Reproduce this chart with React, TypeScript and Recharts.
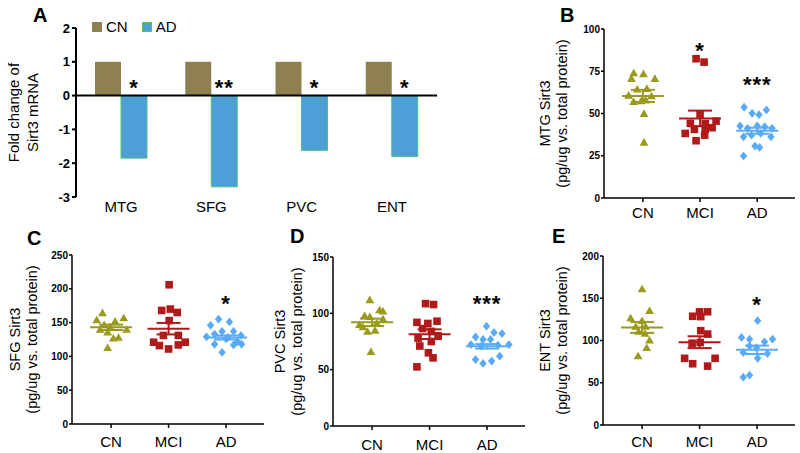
import React from 'react';
import {
  BarChart, Bar, XAxis, YAxis, ReferenceLine, LabelList, Legend,
  ScatterChart, Scatter, ErrorBar,
} from 'recharts';

const FONT = "'Liberation Sans', Arial, sans-serif";

// ---- panel A: fold change of Sirt3 mRNA
const regions = ['MTG', 'SFG', 'PVC', 'ENT'];
const cnFold = [1, 1, 1, 1];
const adFold = [-1.85, -2.7, -1.62, -1.8];
const foldSig = ['*', '**', '*', '*'];
const foldTicks = [-3, -2, -1, 0, 1, 2];
const foldSeries = ['CN', 'AD'];

// ---- panels B-E: groups, points are [x within group, value]
const groups = ['CN', 'MCI', 'AD'];

const mtgCN = [[0.84, 74], [1.01, 73.5], [1.21, 70.7], [0.8, 70.7], [0.9, 64.4], [1.07, 64.8], [0.75, 60.8], [1.15, 60.4], [0.84, 57], [1.05, 58], [0.97, 57.5], [1.02, 50], [1.02, 33]];
const mtgMCI = [[1.93, 82.4], [2.07, 80.4], [2.0, 49.5], [1.83, 44.2], [2.09, 44], [2.28, 45.5], [1.74, 38.2], [1.9, 40.6], [2.09, 40.6], [2.21, 41.6], [1.93, 33.9], [2.08, 37.2]];
const mtgAD = [[2.77, 53.7], [2.91, 50.1], [3.03, 49.3], [3.16, 52.1], [2.7, 42.6], [2.83, 41.2], [3.0, 42.6], [3.13, 42.2], [3.26, 41.2], [2.76, 36.2], [2.9, 37.2], [3.06, 38.2], [3.24, 36.2], [2.96, 30.7], [3.04, 29.9], [2.76, 24.8]];
const mtgMean = [60.4, 47.1, 39.8];
const mtgSem = [3.6, 4.6, 1.8];
const mtgSig = [{ x: 2, y: 90, t: '*' }, { x: 3, y: 70, t: '***' }];

const sfgCN = [[0.85, 164.5], [1.22, 157], [0.75, 154], [1.07, 152], [0.88, 147], [0.98, 144], [1.27, 140], [0.81, 140], [0.94, 136], [1.13, 128], [1.04, 127], [0.94, 113]];
const sfgMCI = [[2.01, 206], [2.03, 170], [1.88, 168], [2.15, 165], [2.01, 153], [1.91, 131], [2.17, 131], [1.74, 121], [2.29, 121], [1.84, 116], [2.0, 111], [2.17, 117]];
const sfgAD = [[2.87, 155], [3.06, 151], [2.73, 146], [2.93, 137], [3.13, 137], [2.8, 133], [3.26, 131], [2.66, 129], [3.0, 126], [2.8, 118], [3.13, 117], [3.27, 118], [2.93, 106], [3.03, 128], [3.2, 122]];
const sfgMean = [143, 141, 128];
const sfgSem = [4, 8.5, 3];
const sfgSig = [{ x: 3, y: 185, t: '*' }];

const pvcCN = [[0.96, 112], [1.13, 103], [1.19, 102], [0.87, 98], [0.96, 97], [1.19, 95], [0.78, 90], [1.08, 91.5], [0.84, 88], [0.92, 84], [1.05, 85], [0.98, 66]];
const pvcMCI = [[1.93, 108.6], [2.07, 107.8], [1.78, 92], [1.97, 91], [2.13, 93], [1.88, 86.5], [2.03, 84], [1.8, 78], [2.15, 80], [2.03, 75], [1.83, 71], [1.98, 65], [2.06, 60.5], [1.78, 52.5]];
const pvcAD = [[2.99, 88.6], [3.12, 83], [2.8, 79], [2.93, 76.8], [3.06, 76.8], [3.26, 82], [2.72, 72.3], [2.9, 70.9], [3.19, 71.7], [3.38, 72.3], [2.8, 59], [2.93, 55.5], [3.08, 57.6], [3.22, 62]];
const pvcMean = [92, 81.5, 70.7];
const pvcSem = [3.3, 4.3, 2];
const pvcSig = [{ x: 3, y: 113, t: '***' }];

const entCN = [[1.0, 161], [1.13, 135.5], [0.8, 126.7], [1.0, 123.5], [0.89, 116.7], [1.06, 116.7], [0.94, 110.8], [1.05, 108.4], [1.13, 100.4], [1.08, 91.6], [0.93, 81.7]];
const entMCI = [[2.0, 134], [2.14, 134], [1.88, 128.7], [2.02, 128.3], [2.02, 111.6], [2.14, 107.6], [2.01, 97.6], [1.74, 78.9], [2.27, 78.9], [1.88, 72.5], [2.14, 69.7], [1.87, 96.8]];
const entAD = [[3.01, 123.5], [2.73, 103.6], [2.87, 101.6], [3.13, 98.4], [3.27, 101.6], [2.87, 93.6], [2.99, 91.6], [2.76, 85.7], [3.18, 84.5], [3.01, 78.9], [2.87, 59], [2.76, 56.6]];
const entMean = [115.5, 98, 89];
const entSem = [6.5, 7, 5];
const entSig = [{ x: 3, y: 148, t: '*' }];

const CN_BAR = '#8e8050';
const AD_BAR = '#4e9fd8';
const AD_EDGE = '#4cc46e';
const CN_C = '#9a9a1c';
const MCI_C = '#b01a1a';
const AD_C = '#5aabf5';

const foldData = regions.map((r, i) => ({ region: r, cn: cnFold[i], ad: adFold[i], sig: foldSig[i] }));
const toPts = (arr: number[][]) => arr.map(([x, y]) => ({ x, y }));

const Tri = ({ cx, cy, c }: any) => (
  <polygon points={`${cx},${cy - 4.2} ${cx + 4.4},${cy + 3.4} ${cx - 4.4},${cy + 3.4}`} fill={c} />
);
const Sq = ({ cx, cy, c }: any) => <rect x={cx - 3.8} y={cy - 3.8} width={7.6} height={7.6} fill={c} />;
const Dia = ({ cx, cy, c }: any) => (
  <polygon points={`${cx},${cy - 4.4} ${cx + 3.7},${cy} ${cx},${cy + 4.4} ${cx - 3.7},${cy}`} fill={c} />
);

const StarText = ({ x, y, t }: any) => (
  <text x={x} y={y} dy="0.55em" textAnchor="middle" fontFamily={FONT} fontWeight="bold"
    fontSize={22} letterSpacing={1} fill="#000">{t}</text>
);

const FoldStar = (p: any) => {
  const zeroY = Math.min(p.y, p.y + p.height);
  return <StarText x={p.x + p.width / 2} y={zeroY - 13} t={p.value} />;
};

const TwoLineLabel = ({ viewBox, lines, dx1, dx2, size }: any) => {
  const cy = viewBox.y + viewBox.height / 2;
  const xs = [viewBox.x + dx1, viewBox.x + dx2];
  return (
    <g>
      {lines.map((s: string, i: number) => (
        <text key={i} x={xs[i]} y={cy} transform={`rotate(-90, ${xs[i]}, ${cy})`} textAnchor="middle"
          dominantBaseline="central" fontFamily={FONT} fontSize={size} fill="#000">{s}</text>
      ))}
    </g>
  );
};

const FoldLegend = (props: any) => {
  const items = [...(props.payload || [])].sort(
    (a: any, b: any) => foldSeries.indexOf(a.value) - foldSeries.indexOf(b.value));
  return (
    <div style={{ display: 'flex', fontFamily: FONT, fontSize: 15, color: '#000' }}>
      {items.map((e: any) => (
        <div key={e.value} style={{ display: 'flex', alignItems: 'center', marginRight: 14 }}>
          <span style={{
            display: 'inline-block', width: 10, height: 10, marginRight: 4, background: e.color,
            boxSizing: 'border-box', border: e.value === 'AD' ? `1px solid ${AD_EDGE}` : 'none',
          }} />
          {e.value}
        </div>
      ))}
    </div>
  );
};

const FoldPanel = () => (
  <BarChart width={450} height={230} data={foldData} barGap={0}
    margin={{ top: 28, right: 13, bottom: 0, left: 0 }}>
    <XAxis dataKey="region" axisLine={false} tickLine={false} tickSize={0} tickMargin={4} height={33}
      tick={{ fontSize: 15, fill: '#000', fontFamily: FONT }} />
    <YAxis domain={[-3, 2]} ticks={foldTicks} width={76} tickSize={4} tickMargin={2}
      axisLine={{ stroke: '#000', strokeWidth: 2 }} tickLine={{ stroke: '#000', strokeWidth: 2 }}
      tick={{ fontSize: 13, fontWeight: 'bold', fill: '#000', fontFamily: FONT }}
      label={{ value: 'fold', content: (p: any) => <TwoLineLabel {...p} lines={['Fold change of', 'Sirt3 mRNA']} dx1={13} dx2={32} size={15} /> }} />
    <Legend layout="horizontal" verticalAlign="middle" align="center" content={FoldLegend}
      wrapperStyle={{ top: 18, left: 92, width: 'auto', height: 'auto' }} />
    <Bar dataKey="cn" name="CN" fill={CN_BAR} barSize={26} isAnimationActive={false} />
    <Bar dataKey="ad" name="AD" fill={AD_BAR} stroke={AD_EDGE} strokeWidth={1} barSize={26} isAnimationActive={false}>
      <LabelList dataKey="sig" content={FoldStar} />
    </Bar>
    <ReferenceLine y={0} stroke="#000" strokeWidth={2} />
  </BarChart>
);

const ScatterPanel = ({ w, h, margin, yW, xH, tm, yMax, yTicks, name, cn, mci, ad, mean, sem, sig }: any) => {
  const shapes = [Tri, Sq, Dia];
  const colors = [CN_C, MCI_C, AD_C];
  const sets = [cn, mci, ad];
  return (
    <ScatterChart width={w} height={h} margin={margin}>
      <XAxis type="number" dataKey="x" domain={[0.32, 3.66]} ticks={[1, 2, 3]} allowDataOverflow
        tickFormatter={(v: number) => groups[v - 1]} height={xH} tickSize={4} tickMargin={tm}
        axisLine={{ stroke: '#000', strokeWidth: 1.5 }} tickLine={{ stroke: '#000', strokeWidth: 1.5 }}
        tick={{ fontSize: 15, fill: '#000', fontFamily: FONT }} />
      <YAxis type="number" dataKey="y" domain={[0, yMax]} ticks={yTicks} width={yW} tickSize={3} tickMargin={1}
        axisLine={{ stroke: '#000', strokeWidth: 1.5 }} tickLine={{ stroke: '#000', strokeWidth: 1.5 }}
        tick={{ fontSize: 10, fontWeight: 'bold', fill: '#000', fontFamily: FONT }}
        label={{ value: name, content: (p: any) => <TwoLineLabel {...p} lines={[`${name} Sirt3`, '(pg/ug vs. total protein)']} dx1={15} dx2={32} size={14.5} /> }} />
      {sets.map((s: number[][], i: number) => {
        const Shape = shapes[i];
        return (
          <Scatter key={`p${i}`} data={toPts(s)} isAnimationActive={false}
            shape={(p: any) => <Shape cx={p.cx} cy={p.cy} c={colors[i]} />} />
        );
      })}
      {groups.map((g, i) => (
        <Scatter key={`m${g}`} data={[{ x: i + 1, y: mean[i], sem: sem[i] }]} isAnimationActive={false}
          shape={(p: any) => <line x1={p.cx - 21} x2={p.cx + 21} y1={p.cy} y2={p.cy} stroke={colors[i]} strokeWidth={2} />}>
          <ErrorBar dataKey="sem" direction="y" width={12} stroke={colors[i]} strokeWidth={2} />
        </Scatter>
      ))}
      <Scatter data={sig} isAnimationActive={false}
        shape={(p: any) => <StarText x={p.cx} y={p.cy} t={p.payload.t} />} />
    </ScatterChart>
  );
};

const letters = [
  { t: 'A', x: 33, y: 22 }, { t: 'B', x: 560, y: 22 }, { t: 'C', x: 27, y: 245 },
  { t: 'D', x: 290, y: 243 }, { t: 'E', x: 552, y: 243 },
];

export default function App() {
  return (
    <div style={{ position: 'absolute', left: 0, top: 0, width: 800, height: 453, background: '#fff', overflow: 'hidden' }}>
      <div style={{ position: 'absolute', left: 0, top: 0 }}><FoldPanel /></div>
      <div style={{ position: 'absolute', left: 530, top: 0 }}>
        <ScatterPanel w={270} h={230} margin={{ top: 29, right: 5, bottom: 0, left: 0 }} yW={74} xH={32} tm={5}
          yMax={100} yTicks={[0, 25, 50, 75, 100]} name="MTG" cn={mtgCN} mci={mtgMCI} ad={mtgAD}
          mean={mtgMean} sem={mtgSem} sig={mtgSig} />
      </div>
      <div style={{ position: 'absolute', left: 0, top: 230 }}>
        <ScatterPanel w={270} h={223} margin={{ top: 25, right: 6, bottom: 0, left: 0 }} yW={72} xH={29} tm={8}
          yMax={250} yTicks={[0, 50, 100, 150, 200, 250]} name="SFG" cn={sfgCN} mci={sfgMCI} ad={sfgAD}
          mean={sfgMean} sem={sfgSem} sig={sfgSig} />
      </div>
      <div style={{ position: 'absolute', left: 265, top: 230 }}>
        <ScatterPanel w={270} h={223} margin={{ top: 27, right: 10, bottom: 0, left: 0 }} yW={68} xH={27} tm={9}
          yMax={150} yTicks={[0, 50, 100, 150]} name="PVC" cn={pvcCN} mci={pvcMCI} ad={pvcAD}
          mean={pvcMean} sem={pvcSem} sig={pvcSig} />
      </div>
      <div style={{ position: 'absolute', left: 530, top: 230 }}>
        <ScatterPanel w={270} h={223} margin={{ top: 26, right: 5, bottom: 0, left: 0 }} yW={73} xH={28} tm={7}
          yMax={200} yTicks={[0, 50, 100, 150, 200]} name="ENT" cn={entCN} mci={entMCI} ad={entAD}
          mean={entMean} sem={entSem} sig={entSig} />
      </div>
      <svg width={800} height={453} style={{ position: 'absolute', left: 0, top: 0, pointerEvents: 'none' }}>
        {letters.map((l) => (
          <text key={l.t} x={l.x} y={l.y} fontFamily={FONT} fontWeight="bold" fontSize={20} fill="#000">{l.t}</text>
        ))}
      </svg>
    </div>
  );
}
